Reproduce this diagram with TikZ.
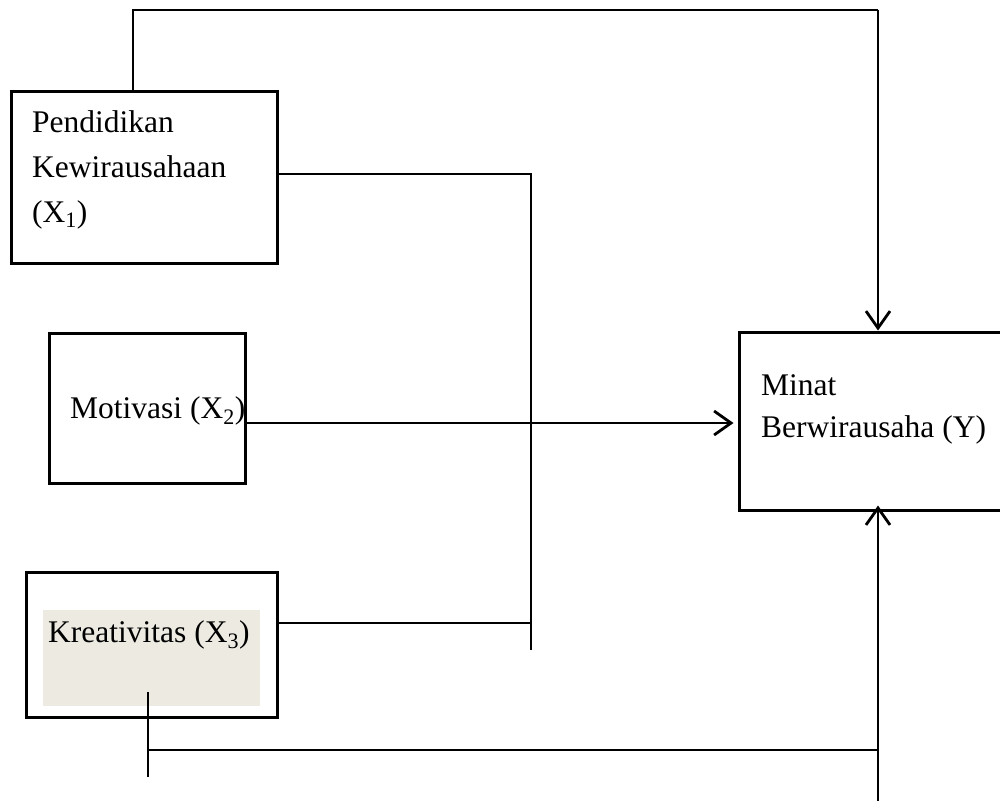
\documentclass[tikz,border=0pt]{standalone}
\usepackage{fontspec}
\setmainfont{Liberation Serif}
\usetikzlibrary{arrows.meta}
\definecolor{shade}{HTML}{ECEAE1}
\tikzset{
  varbox/.style={draw, line width=3pt, inner sep=0pt},
  vartext/.style={anchor=base west, align=left, inner sep=0pt, font=\fontsize{31.5}{45}\selectfont},
  thin line/.style={line width=1.5pt},
  arr/.style={line width=2.8pt, -{Straight Barb[length=17pt,width=24pt]}}
}
\begin{document}
\begin{tikzpicture}[x=1pt, y=-1pt]
      \useasboundingbox (0,0) rectangle (1000,801);
      % variable boxes
      \node[varbox, minimum width=266pt, minimum height=172pt] (x1) at (144,177) {};
      \node[varbox, minimum width=196pt, minimum height=150pt] (x2) at (147,408) {};
      \node[varbox, minimum width=251pt, minimum height=145pt] (x3) at (151.5,644.5) {};
      \node[fill=shade, minimum width=217pt, minimum height=96pt, inner sep=0pt] (x3fill) at (151.5,658) {};
      \node[varbox, minimum width=264pt, minimum height=178pt] (y) at (871,421) {};
      % labels (base = last line)
      \node[vartext] (x1txt) at (32,222) {Pendidikan\\Kewirausahaan\\(X\textsubscript{1})};
      \node[vartext] (x2txt) at (70,418) {Motivasi (X\textsubscript{2})};
      \node[vartext] (x3txt) at (48,642) {Kreativitas (X\textsubscript{3})};
      \node[vartext, font=\fontsize{31.5}{42}\selectfont] (ytxt) at (761,437) {Minat\\Berwirausaha (Y)};
      % junction points
      \coordinate (topl) at (133,10);
      \coordinate (topr) at (878,10);
      \coordinate (midtop) at (531,174);
      \coordinate (midbot) at (531,650);
      \coordinate (x3a) at (148,692);
      \coordinate (x3b) at (148,777);
      \coordinate (botj) at (878,750);
      \coordinate (botend) at (878,801);
      \draw[thin line] (x1.north -| topl) -- (topl) -- (topr);
      \draw[arr] (topr) -- (y.north -| topr);
      \draw[thin line] (x1.east |- midtop) -- (midtop) -- (midbot)
                       (x3.east |- 0,623) -- (midbot |- 0,623);
      \draw[arr] (x2.east |- 0,423) -- ([xshift=-4pt]y.west |- 0,423);
      \draw[thin line] (x3a) -- (x3b)
                       (x3a |- botj) -- (botj);
      \draw[arr] (botend) -- ([yshift=6pt]y.south -| botend);
\end{tikzpicture}
\end{document}
